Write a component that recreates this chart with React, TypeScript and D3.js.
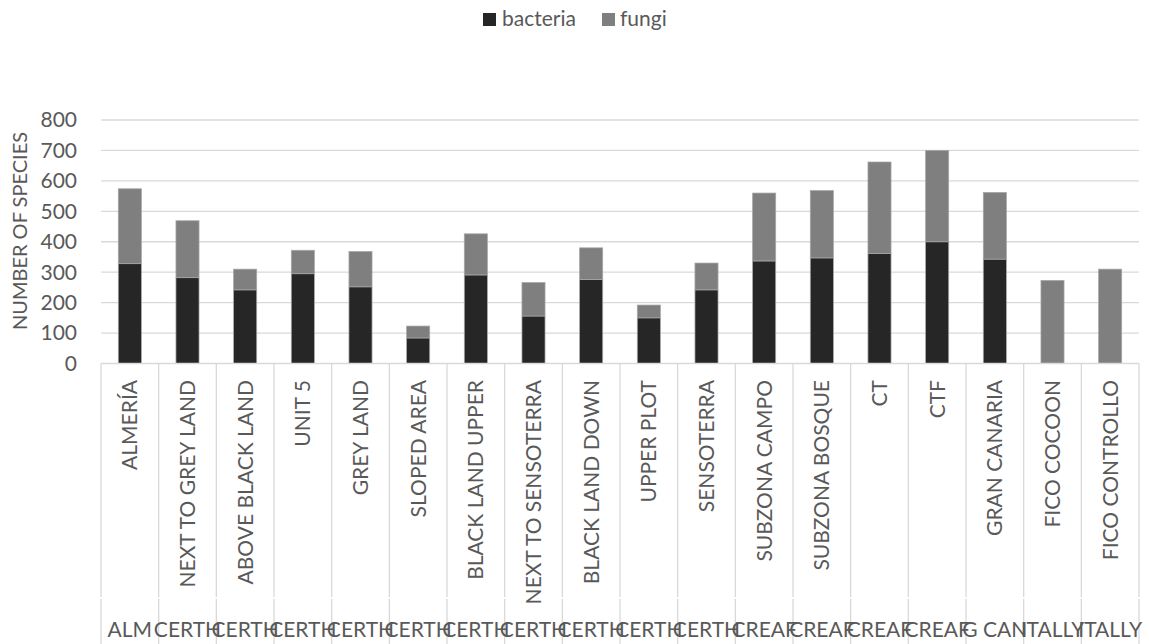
import React from 'react';
import * as d3 from 'd3';

const categories = [
  'ALMERÍA', 'NEXT TO GREY LAND', 'ABOVE BLACK LAND', 'UNIT 5', 'GREY LAND', 'SLOPED AREA',
  'BLACK LAND UPPER', 'NEXT TO SENSOTERRA', 'BLACK LAND DOWN', 'UPPER PLOT', 'SENSOTERRA',
  'SUBZONA CAMPO', 'SUBZONA BOSQUE', 'CT', 'CTF', 'GRAN CANARIA', 'FICO COCOON', 'FICO CONTROLLO',
];
const groups = [
  'ALM', 'CERTH', 'CERTH', 'CERTH', 'CERTH', 'CERTH', 'CERTH', 'CERTH', 'CERTH', 'CERTH', 'CERTH',
  'CREAF', 'CREAF', 'CREAF', 'CREAF', 'G CAN', 'ITALLY', 'ITALLY',
];
const bacteria = [328, 282, 242, 295, 252, 84, 291, 156, 276, 150, 242, 337, 347, 361, 400, 343, 0, 0];
const fungi = [246, 187, 68, 77, 116, 39, 135, 110, 104, 42, 88, 223, 221, 301, 300, 219, 273, 310];
const yTicks = [0, 100, 200, 300, 400, 500, 600, 700, 800];

const seriesNames = ['bacteria', 'fungi'];
const colors = ['#262626', '#7f7f7f'];

const W = 1149;
const H = 644;
const left = 101;
const right = 1139;
const top = 120;
const bottom = 363.5;
const font = 'Lato, "Open Sans", sans-serif';
const textColor = '#595959';
const gridColor = '#d9d9d9';

export default function App() {
  const rows = categories.map((c, i) => ({ cat: c, bacteria: bacteria[i], fungi: fungi[i] }));
  const stacked = d3.stack<any>().keys(seriesNames)(rows);

  const x = d3.scaleBand().domain(categories).range([left, right]).paddingInner(0.6).paddingOuter(0.3);
  const xCol = d3.scaleBand().domain(categories).range([left, right]).padding(0);
  const y = d3.scaleLinear().domain([0, 800]).range([bottom, top]);

  const boundaries = categories.map((c) => xCol(c)!).concat([right]);

  return (
    <svg width={W} height={H} style={{ position: 'absolute', left: 0, top: 0 }} fontFamily={font}>
      <rect width={W} height={H} fill="#fff" />

      {/* legend */}
      <g>
        <rect x={483} y={13} width={13} height={13} fill={colors[0]} />
        <text x={502} y={26} fontSize={21} fill={textColor}>bacteria</text>
        <rect x={602} y={13} width={13} height={13} fill={colors[1]} />
        <text x={620} y={26} fontSize={21} fill={textColor}>fungi</text>
      </g>

      {/* gridlines */}
      {yTicks.filter((t) => t > 0).map((t) => (
        <line key={t} x1={left} x2={right} y1={y(t)} y2={y(t)} stroke={gridColor} strokeWidth={1.3} />
      ))}

      {/* y tick labels */}
      {yTicks.map((t) => (
        <text key={t} x={77} y={y(t)} dy="0.35em" textAnchor="end" fontSize={21} fill={textColor}>
          {t}
        </text>
      ))}

      {/* y axis title */}
      <text
        transform={`translate(27,231) rotate(-90)`}
        textAnchor="middle"
        fontSize={20}
        fill={textColor}
      >
        NUMBER OF SPECIES
      </text>

      {/* bars */}
      {stacked.map((s, si) => (
        <g key={s.key} fill={colors[si]}>
          {s.map((d, i) =>
            d[1] - d[0] > 0 ? (
              <rect
                key={i}
                x={x(categories[i])}
                width={x.bandwidth()}
                y={y(d[1])}
                height={y(d[0]) - y(d[1])}
                stroke="#a6a6a6"
                strokeWidth={0.75}
              />
            ) : null
          )}
        </g>
      ))}

      {/* category axis */}
      <line x1={left} x2={right} y1={bottom} y2={bottom} stroke={gridColor} strokeWidth={1.3} />
      {boundaries.map((bx, i) => (
        <g key={i}>
          <line x1={bx} x2={bx} y1={bottom} y2={597} stroke={gridColor} strokeWidth={1.3} />
          <line x1={bx} x2={bx} y1={599} y2={H} stroke={gridColor} strokeWidth={1.3} />
        </g>
      ))}
      {categories.map((c) => {
        const cx = xCol(c)! + xCol.bandwidth() / 2;
        return (
          <text
            key={c}
            transform={`translate(${cx},380) rotate(-90)`}
            textAnchor="end"
            dy="0.35em"
            fontSize={21}
            fill={textColor}
          >
            {c}
          </text>
        );
      })}
      {groups.map((g, i) => {
        const cx = xCol(categories[i])! + xCol.bandwidth() / 2;
        return (
          <text key={i} x={cx} y={637} textAnchor="middle" fontSize={21} fill={textColor}>
            {g}
          </text>
        );
      })}
    </svg>
  );
}
